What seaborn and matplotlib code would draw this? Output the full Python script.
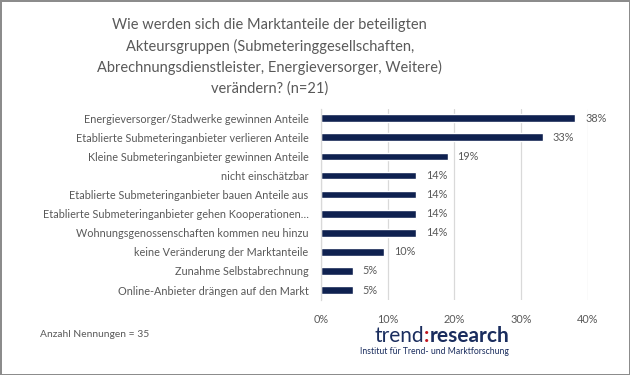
"""Marktanteile der Akteursgruppen - horizontales Balkendiagramm."""

import matplotlib

matplotlib.use("Agg")
import matplotlib.pyplot as plt
import pandas as pd
import seaborn as sns
from matplotlib.offsetbox import AnnotationBbox, HPacker, TextArea, VPacker
from matplotlib.ticker import FuncFormatter, MultipleLocator


CATEGORIES = [
    "Energieversorger/Stadwerke gewinnen Anteile",
    "Etablierte Submeteringanbieter verlieren Anteile",
    "Kleine Submeteringanbieter gewinnen Anteile",
    "nicht einschätzbar",
    "Etablierte Submeteringanbieter bauen Anteile aus",
    "Etablierte Submeteringanbieter gehen Kooperationen…",
    "Wohnungsgenossenschaften kommen neu hinzu",
    "keine Veränderung der Marktanteile",
    "Zunahme Selbstabrechnung",
    "Online-Anbieter drängen auf den Markt",
]
SHARES = [0.381, 0.333, 0.190, 0.143, 0.143, 0.143, 0.143, 0.095, 0.048, 0.048]

TITLE = (
    "Wie werden sich die Marktanteile der beteiligten\n"
    "Akteursgruppen (Submeteringgesellschaften,\n"
    "Abrechnungsdienstleister, Energieversorger, Weitere)\n"
    "verändern? (n=21)"
)
NOTE = "Anzahl Nennungen = 35"

COLORS = {
    "bar": "#0f2150",
    "ink": "#595959",
    "grid": "#d9d9d9",
    "frame": "#8c8c8c",
    "logo": "#1a2d5e",
    "dot": "#c0141e",
}

sns.set_theme(style="whitegrid")
plt.rcParams["font.family"] = ["Lato", "DejaVu Sans"]

df = pd.DataFrame({"kategorie": CATEGORIES, "anteil": SHARES})

fig = plt.figure(figsize=(6.3, 3.75), dpi=100)
fig.patch.set_facecolor("white")
fig.patch.set_edgecolor(COLORS["frame"])
fig.patch.set_linewidth(2)

ax = fig.add_axes([0.5095, 0.201, 0.4238, 0.5093])
sns.barplot(data=df, x="anteil", y="kategorie", color=COLORS["bar"], width=0.4,
            saturation=1, ax=ax)

ax.set_xlim(0, 0.40)
ax.xaxis.set_major_locator(MultipleLocator(0.10))
ax.xaxis.set_major_formatter(FuncFormatter(lambda v, _: f"{v * 100:.0f}%"))
ax.set_xlabel("")
ax.set_ylabel("")
ax.set_facecolor("white")
ax.grid(axis="x", color=COLORS["grid"], linewidth=0.9)
ax.grid(axis="y", visible=False)
for side in ["top", "right", "bottom"]:
    ax.spines[side].set_visible(False)
ax.spines["left"].set_color(COLORS["grid"])
ax.spines["left"].set_linewidth(0.9)
ax.tick_params(axis="x", length=0, pad=10, labelsize=7.8, labelcolor=COLORS["ink"])
ax.tick_params(axis="y", length=0, pad=9, labelsize=7.8, labelcolor=COLORS["ink"])

ax.bar_label(ax.containers[0], labels=[f"{v * 100:.0f}%" for v in SHARES],
             padding=7, fontsize=7.8, color=COLORS["ink"], clip_on=False)

fig.text(0.428, 0.848, TITLE, ha="center", va="center", fontsize=10.5,
         color=COLORS["ink"], linespacing=1.55)
fig.text(0.063, 0.107, NOTE, ha="left", va="center", fontsize=7.4,
         color=COLORS["ink"])

# trend:research Logo
logo_row = HPacker(children=[
    TextArea("trend", textprops=dict(fontsize=15, color=COLORS["logo"])),
    TextArea(":", textprops=dict(fontsize=15, color=COLORS["dot"], fontweight="bold")),
    TextArea("research", textprops=dict(fontsize=15, color=COLORS["logo"], fontweight="bold")),
], pad=0, sep=0)
logo_sub = TextArea("Institut für Trend- und Marktforschung",
                    textprops=dict(fontsize=6.2, color=COLORS["logo"]))
logo = VPacker(children=[logo_row, logo_sub], align="right", pad=0, sep=1)
fig.add_artist(AnnotationBbox(logo, (0.808, 0.09), xycoords="figure fraction",
                              box_alignment=(1, 0.5), frameon=False))

fig.savefig("out.png", dpi=100, facecolor=fig.get_facecolor(),
            edgecolor=fig.get_edgecolor())
